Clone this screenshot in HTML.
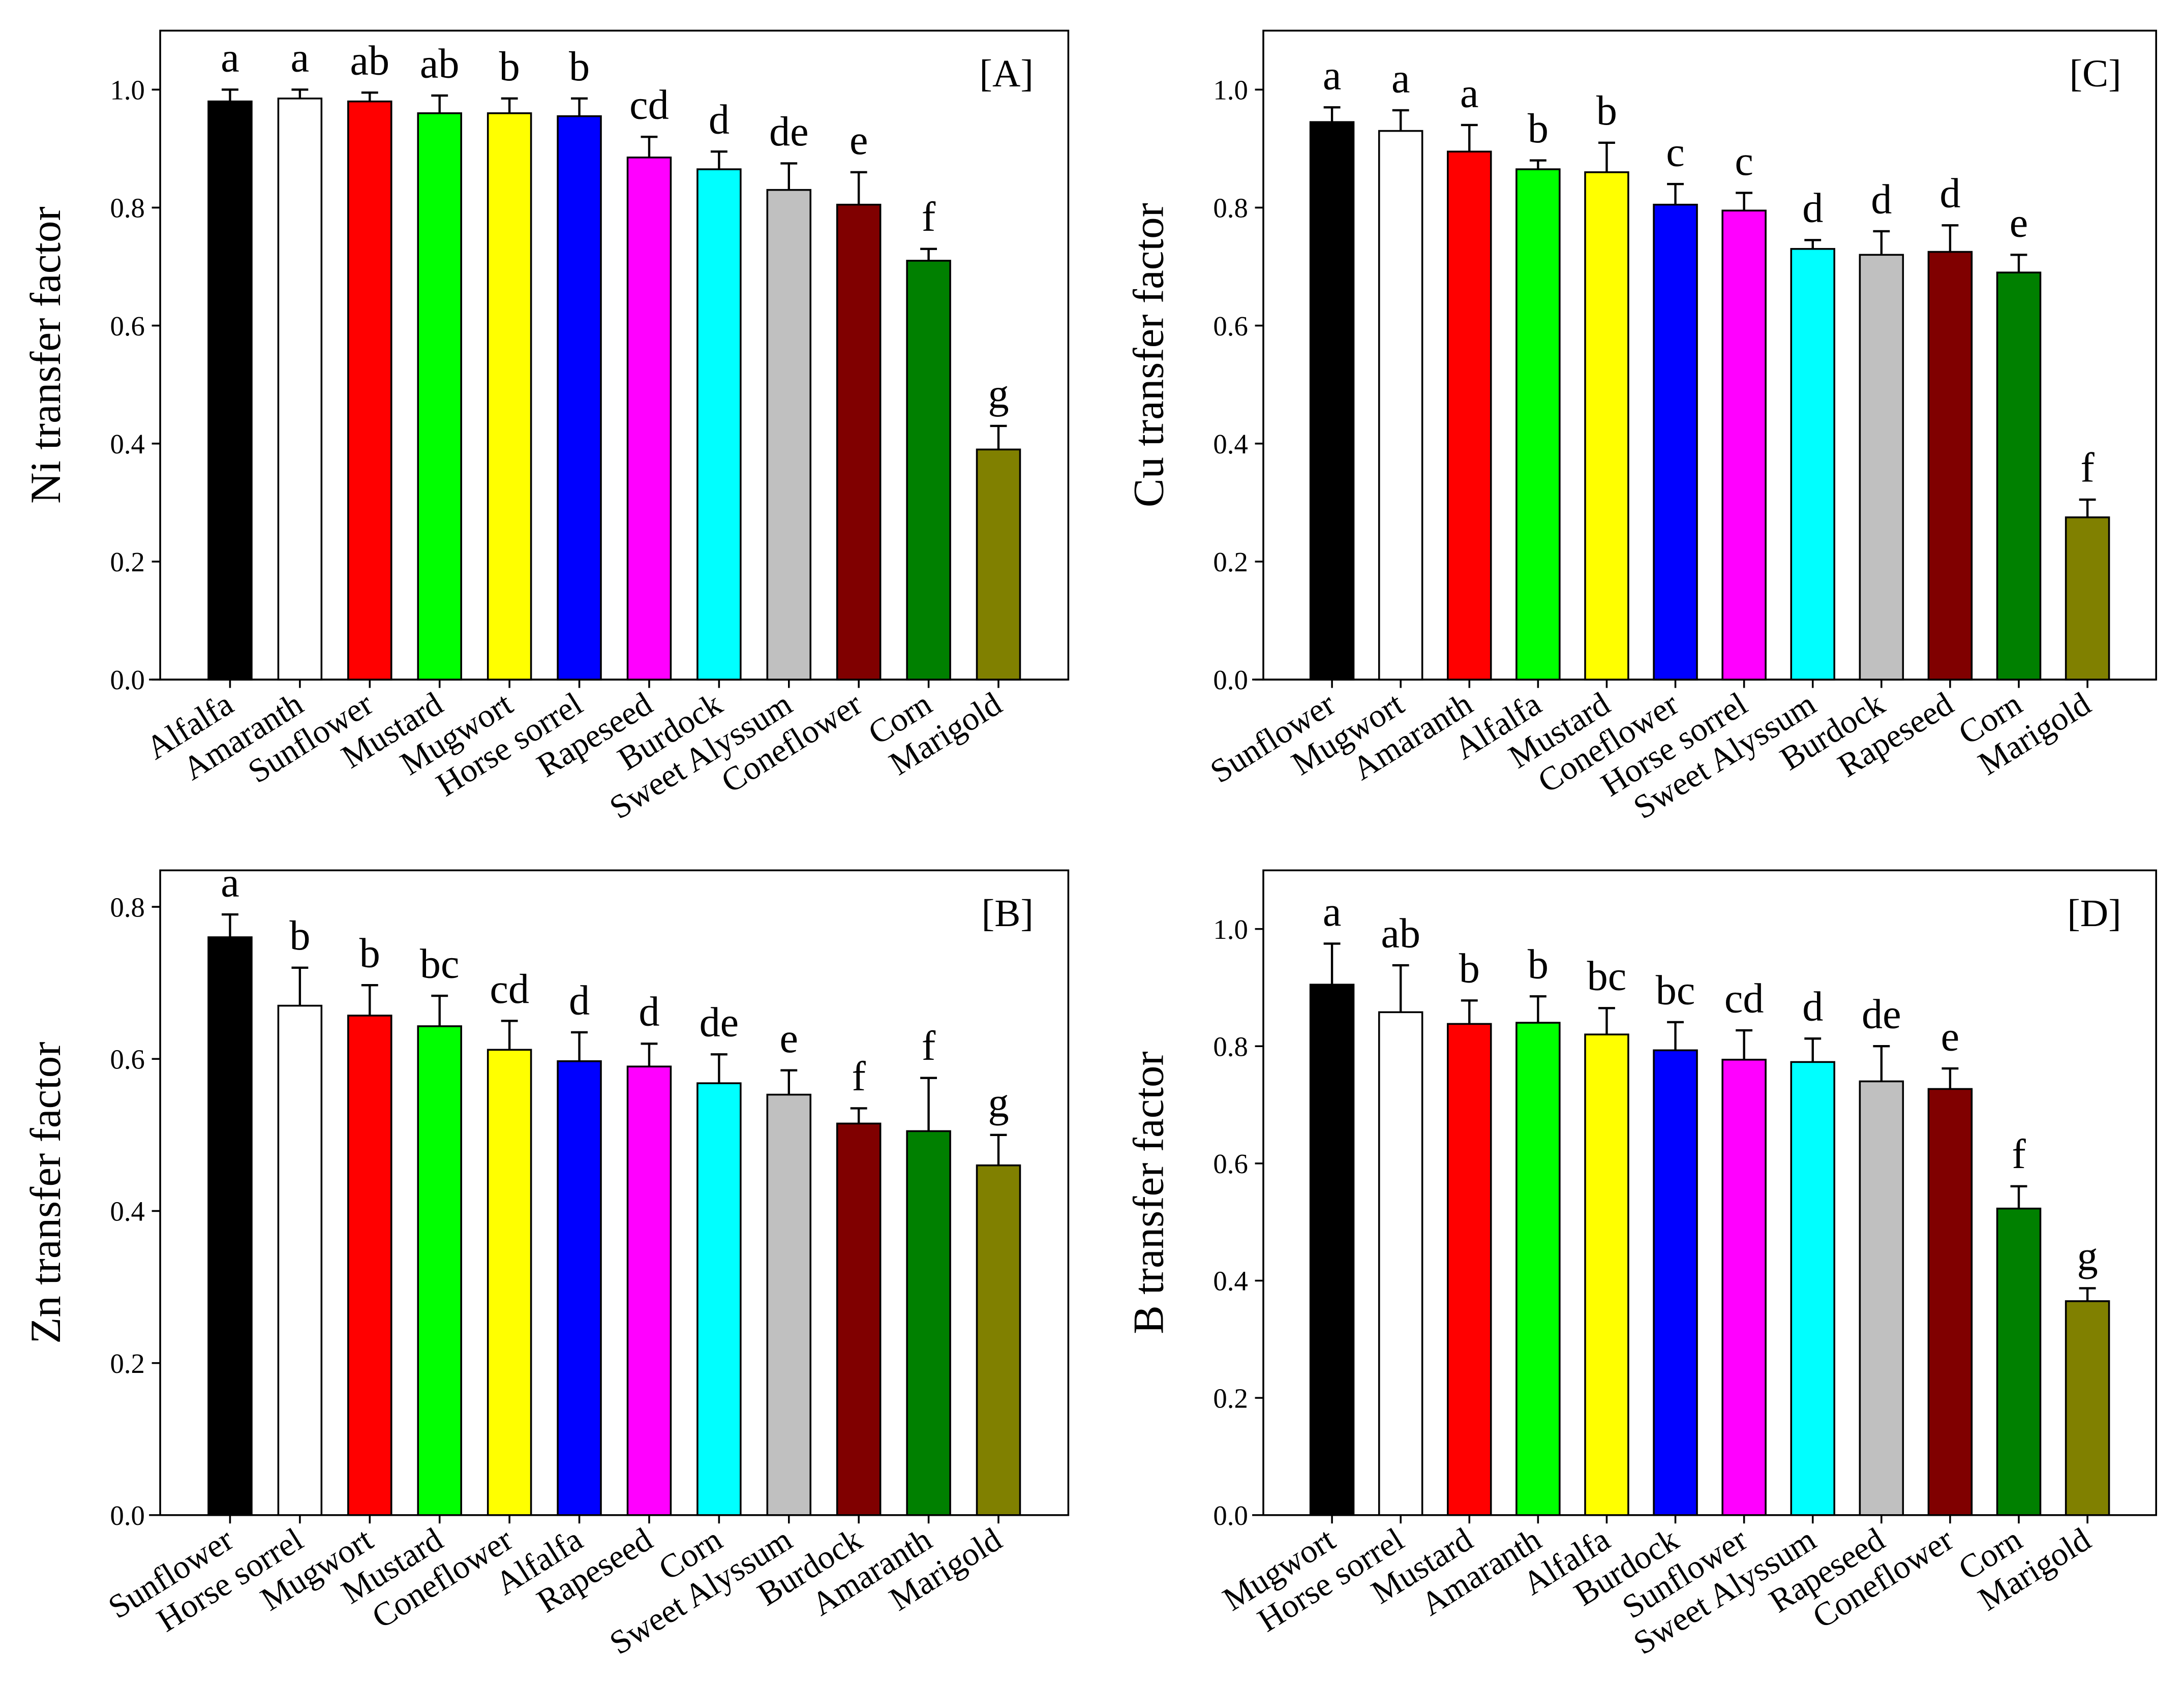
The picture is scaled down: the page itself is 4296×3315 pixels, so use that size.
<!DOCTYPE html>
<html><head><meta charset="utf-8"><style>
html,body{margin:0;padding:0;background:#fff}
svg{display:block}
text{font-family:"Liberation Serif",serif;fill:#000}
</style></head><body>
<svg id="fig" xmlns="http://www.w3.org/2000/svg" width="4296" height="3315" viewBox="0 0 1568 1210" preserveAspectRatio="none">
<rect width="1568" height="1210" fill="#fff"/>
</svg>
<script>
const colors = ['#000000','#ffffff','#ff0000','#00ff00','#ffff00','#0000ff','#ff00ff','#00ffff','#c0c0c0','#800000','#008000','#808000'];

const catsA = ['Alfalfa','Amaranth','Sunflower','Mustard','Mugwort','Horse sorrel','Rapeseed','Burdock','Sweet Alyssum','Coneflower','Corn','Marigold'];
const valsA = [0.98,0.985,0.98,0.96,0.96,0.955,0.885,0.865,0.83,0.805,0.71,0.39];
const errA = [0.02,0.015,0.015,0.03,0.025,0.03,0.035,0.03,0.045,0.055,0.02,0.04];
const letA = ['a','a','ab','ab','b','b','cd','d','de','e','f','g'];

const catsC = ['Sunflower','Mugwort','Amaranth','Alfalfa','Mustard','Coneflower','Horse sorrel','Sweet Alyssum','Burdock','Rapeseed','Corn','Marigold'];
const valsC = [0.945,0.93,0.895,0.865,0.86,0.805,0.795,0.73,0.72,0.725,0.69,0.275];
const errC = [0.025,0.035,0.045,0.015,0.05,0.035,0.03,0.015,0.04,0.045,0.03,0.03];
const letC = ['a','a','a','b','b','c','c','d','d','d','e','f'];

const catsB = ['Sunflower','Horse sorrel','Mugwort','Mustard','Coneflower','Alfalfa','Rapeseed','Corn','Sweet Alyssum','Burdock','Amaranth','Marigold'];
const valsB = [0.76,0.67,0.657,0.643,0.612,0.597,0.59,0.568,0.553,0.515,0.505,0.46];
const errB = [0.03,0.05,0.04,0.04,0.038,0.038,0.03,0.038,0.032,0.02,0.07,0.04];
const letB = ['a','b','b','bc','cd','d','d','de','e','f','f','g'];

const catsD = ['Mugwort','Horse sorrel','Mustard','Amaranth','Alfalfa','Burdock','Sunflower','Sweet Alyssum','Rapeseed','Coneflower','Corn','Marigold'];
const valsD = [0.905,0.858,0.838,0.84,0.82,0.793,0.777,0.773,0.74,0.727,0.523,0.365];
const errD = [0.07,0.08,0.04,0.045,0.045,0.048,0.05,0.04,0.06,0.035,0.038,0.022];
const letD = ['a','ab','b','b','bc','bc','cd','d','de','e','f','g'];

const ticksA = ['0.0','0.2','0.4','0.6','0.8','1.0'];
const ticksB = ['0.0','0.2','0.4','0.6','0.8'];

const NS='http://www.w3.org/2000/svg';
const svg=document.getElementById('fig');
function mk(tag,attrs,parent){const e=document.createElementNS(NS,tag);for(const k in attrs)e.setAttribute(k,attrs[k]);(parent||svg).appendChild(e);return e;}

function panel(id,x0,x1,yTop,yBot,ymax,cats,vals,errs,lets,ticks,title,tag){
  const g=mk('g',{});
  
  
  const ys=v=>yBot-(v/ymax)*(yBot-yTop);
  const step=(x1-x0)/13;
  const xs=i=>x0+step*(i+1);
  const bw=31;
  const box=mk('rect',{x:x0,y:yTop,width:x1-x0,height:yBot-yTop,fill:'none',stroke:'#000','stroke-width':1.3},g);
  
  
  const base=mk('line',{x1:x0-8,x2:x1,y1:yBot,y2:yBot,stroke:'#000','stroke-width':1.3},g);
  
  
  ticks.forEach(t=>{
    const v=parseFloat(t),y=ys(v);
    mk('line',{x1:x0-6,x2:x0,y1:y,y2:y,stroke:'#000','stroke-width':1.3},g);
    const tl=mk('text',{x:x0-11,y:y+7,'text-anchor':'end','font-size':20,fill:'#222'},g);
    tl.textContent=t;
    
    
  });
  cats.forEach((c,i)=>{
    const cx=xs(i),v=vals[i],e=errs[i];
    const bar=mk('rect',{x:cx-bw/2,y:ys(v),width:bw,height:yBot-ys(v),fill:colors[i],stroke:'#000','stroke-width':1.3},g);
    
    
    const yt=ys(v+e);
    const eb=mk('path',{d:`M${cx},${ys(v)}V${yt}M${cx-6},${yt}H${cx+6}`,stroke:'#000','stroke-width':1.6,fill:'none'},g);
    
    
    const lt=mk('text',{x:cx,y:yt-13,'text-anchor':'middle','font-size':30},g);
    lt.textContent=lets[i];
    
    
    mk('line',{x1:cx,x2:cx,y1:yBot,y2:yBot+6,stroke:'#000','stroke-width':1.3},g);
    const lx=cx+4,ly=yBot+22;
    const xl=mk('text',{x:lx,y:ly,'text-anchor':'end','font-size':24,fill:'#222',transform:`rotate(-32 ${lx} ${ly})`},g);
    xl.textContent=c;
    
    
  });
  const tx=x0-72,ty=(yTop+yBot)/2;
  const at=mk('text',{x:tx,y:ty,'text-anchor':'middle','font-size':31,transform:`rotate(-90 ${tx} ${ty})`},g);
  at.textContent=title;
  
  
  const pl=mk('text',{x:x1-25,y:yTop+40,'text-anchor':'end','font-size':28},g);
  pl.textContent=tag;
  
  
}
panel('a',115,767,22,488,1.1,catsA,valsA,errA,letA,ticksA,'Ni transfer factor','[A]');
panel('c',907,1548,22,488,1.1,catsC,valsC,errC,letC,ticksA,'Cu transfer factor','[C]');
panel('b',115,767,625,1088,0.848,catsB,valsB,errB,letB,ticksB,'Zn transfer factor','[B]');
panel('d',907,1548,625,1088,1.1,catsD,valsD,errD,letD,ticksA,'B transfer factor','[D]');
</script>
</body></html>
